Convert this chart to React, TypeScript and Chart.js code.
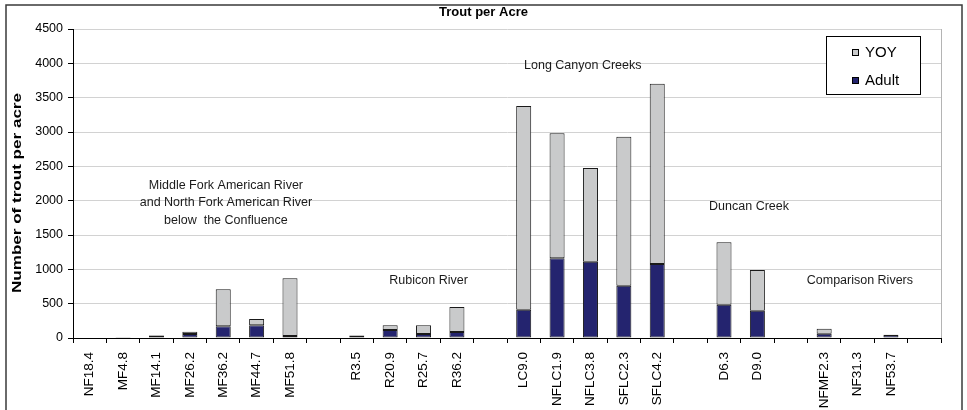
import React, { useEffect, useRef } from 'react';
import { Chart, registerables } from 'chart.js';

Chart.register(...registerables);

const categories = [
  'NF18.4', 'MF4.8', 'MF14.1', 'MF26.2', 'MF36.2', 'MF44.7', 'MF51.8', '',
  'R3.5', 'R20.9', 'R25.7', 'R36.2', '',
  'LC9.0', 'NFLC1.9', 'NFLC3.8', 'SFLC2.3', 'SFLC4.2', '',
  'D6.3', 'D9.0', '',
  'NFMF2.3', 'NF31.3', 'NF53.7', '',
];

const adultValues = [
  0, 10, 35, 60, 170, 185, 30, null,
  28, 115, 60, 88, null,
  410, 1160, 1110, 760, 1077, null,
  485, 397, null,
  63, 0, 44, null,
];

const yoyValues = [
  0, 5, 5, 30, 540, 92, 840, null,
  7, 70, 125, 365, null,
  2970, 1820, 1365, 2170, 2625, null,
  908, 593, null,
  72, 0, 4, null,
];

const yMin = 0;
const yMax = 4500;
const yStep = 500;

const chartTitle = 'Trout per Acre';
const yAxisTitle = 'Number of trout per acre';
const legendLabels = ['YOY', 'Adult'];

const noteTexts = [
  ['Middle Fork American River', 'and North Fork American River', 'below  the Confluence'],
  ['Rubicon River'],
  ['Long Canyon Creeks'],
  ['Duncan Creek'],
  ['Comparison Rivers'],
];
const noteIndex = [4.08, 10.15, 14.77, 19.75, 23.07];
const noteValue = [1966, 834, 3965, 1912, 834];

const FONT = '"Liberation Sans", Arial, Helvetica, sans-serif';
const ADULT_COLOR = '#24246f';
const YOY_COLOR = '#c9cacb';

const decorPlugin = {
  id: 'decor',
  beforeDraw(chart: any) {
    const { ctx, width, height } = chart;
    ctx.save();
    ctx.fillStyle = '#ffffff';
    ctx.fillRect(0, 0, width, height);
    ctx.restore();
  },
  afterDatasetsDraw(chart: any) {
    const { ctx, chartArea } = chart;
    const xs = chart.scales.x;
    const ys = chart.scales.y;
    ctx.save();
    // plot area right border
    ctx.strokeStyle = '#b4b4b4';
    ctx.lineWidth = 1;
    ctx.beginPath();
    ctx.moveTo(Math.round(chartArea.right) + 0.5, chartArea.top);
    ctx.lineTo(Math.round(chartArea.right) + 0.5, chartArea.bottom);
    ctx.stroke();

    // annotations
    ctx.fillStyle = '#1a1a1a';
    ctx.font = `12.5px ${FONT}`;
    ctx.textAlign = 'center';
    ctx.textBaseline = 'middle';
    noteTexts.forEach((lines, i) => {
      const x = xs.getPixelForValue(noteIndex[i]);
      const y = ys.getPixelForValue(noteValue[i]);
      const n = lines.length;
      lines.forEach((t, j) => {
        ctx.fillText(t, x, y + (j - (n - 1) / 2) * 17.5);
      });
    });

    // legend
    ctx.fillStyle = '#ffffff';
    ctx.fillRect(826, 36, 95, 59);
    ctx.strokeStyle = '#000000';
    ctx.lineWidth = 1;
    ctx.strokeRect(826.5, 36.5, 94, 58);
    const colors = [YOY_COLOR, ADULT_COLOR];
    const rows = [52.5, 80.5];
    legendLabels.forEach((lab, i) => {
      ctx.fillStyle = colors[i];
      ctx.fillRect(852, rows[i] - 3.5, 7, 7);
      ctx.strokeStyle = '#000';
      ctx.strokeRect(852.5, rows[i] - 3.5 + 0.5, 6, 6);
      ctx.fillStyle = '#000';
      ctx.font = `15px ${FONT}`;
      ctx.textAlign = 'left';
      ctx.textBaseline = 'middle';
      ctx.fillText(lab, 865, rows[i] + 0.5);
    });
    ctx.restore();
  },
  afterDraw(chart: any) {
    const { ctx } = chart;
    ctx.save();
    // title
    ctx.fillStyle = '#000';
    ctx.font = `bold 13px ${FONT}`;
    ctx.textAlign = 'center';
    ctx.textBaseline = 'middle';
    ctx.fillText(chartTitle, 483.5, 12.5);
    // y-axis title (stretched lengthwise like the reference)
    ctx.translate(17, 193);
    ctx.rotate(-Math.PI / 2);
    ctx.font = `bold 13px ${FONT}`;
    const w = ctx.measureText(yAxisTitle).width;
    ctx.scale(200 / w, 1);
    ctx.fillText(yAxisTitle, 0, 0);
    ctx.restore();
    // outer border
    ctx.save();
    ctx.strokeStyle = '#3a3a3a';
    ctx.lineWidth = 1.5;
    ctx.strokeRect(6, 5, 956, 412);
    ctx.restore();
  },
};

export default function App() {
  const canvasRef = useRef<HTMLCanvasElement | null>(null);

  useEffect(() => {
    const canvas = canvasRef.current;
    if (!canvas) return;
    const chart = new Chart(canvas, {
      type: 'bar',
      data: {
        labels: categories,
        datasets: [
          {
            label: 'Adult',
            data: adultValues,
            backgroundColor: ADULT_COLOR,
            borderColor: '#1a1a1a',
            borderWidth: 1,
            borderSkipped: false,
            stack: 's',
            barPercentage: 0.45,
            categoryPercentage: 1,
          },
          {
            label: 'YOY',
            data: yoyValues,
            backgroundColor: YOY_COLOR,
            borderColor: '#1a1a1a',
            borderWidth: 1,
            borderSkipped: false,
            stack: 's',
            barPercentage: 0.45,
            categoryPercentage: 1,
          },
        ],
      },
      options: {
        responsive: false,
        animation: false,
        devicePixelRatio: 1,
        layout: { padding: { left: 0, right: 26, top: 29, bottom: 0 } },
        plugins: {
          legend: { display: false },
          title: { display: false },
          tooltip: { enabled: false },
        },
        scales: {
          x: {
            stacked: true,
            offset: true,
            grid: {
              display: true,
              drawOnChartArea: false,
              drawTicks: true,
              tickLength: 5,
              tickColor: '#000',
              offset: true,
            },
            border: { display: true, color: '#000', width: 1 },
            ticks: {
              autoSkip: false,
              minRotation: 90,
              maxRotation: 90,
              color: '#000',
              padding: 9,
              font: { family: FONT, size: 13.5 },
            },
            afterFit(scale: any) {
              scale.height = 72;
            },
          },
          y: {
            stacked: true,
            min: yMin,
            max: yMax,
            grid: {
              color: '#d2d2d2',
              lineWidth: 1,
              drawTicks: true,
              tickLength: 5,
              tickColor: '#000',
            },
            border: { display: true, color: '#000', width: 1 },
            ticks: {
              stepSize: yStep,
              color: '#000',
              padding: 5,
              font: { family: FONT, size: 12.5 },
              callback: (v: any) => String(v),
            },
            afterFit(scale: any) {
              scale.width = 73;
            },
          },
        },
      },
      plugins: [decorPlugin],
    });
    return () => chart.destroy();
  }, []);

  return (
    <div style={{ position: 'absolute', left: 0, top: 0, width: 967, height: 410 }}>
      <canvas ref={canvasRef} width={967} height={410} style={{ display: 'block', width: 967, height: 410 }} />
    </div>
  );
}
